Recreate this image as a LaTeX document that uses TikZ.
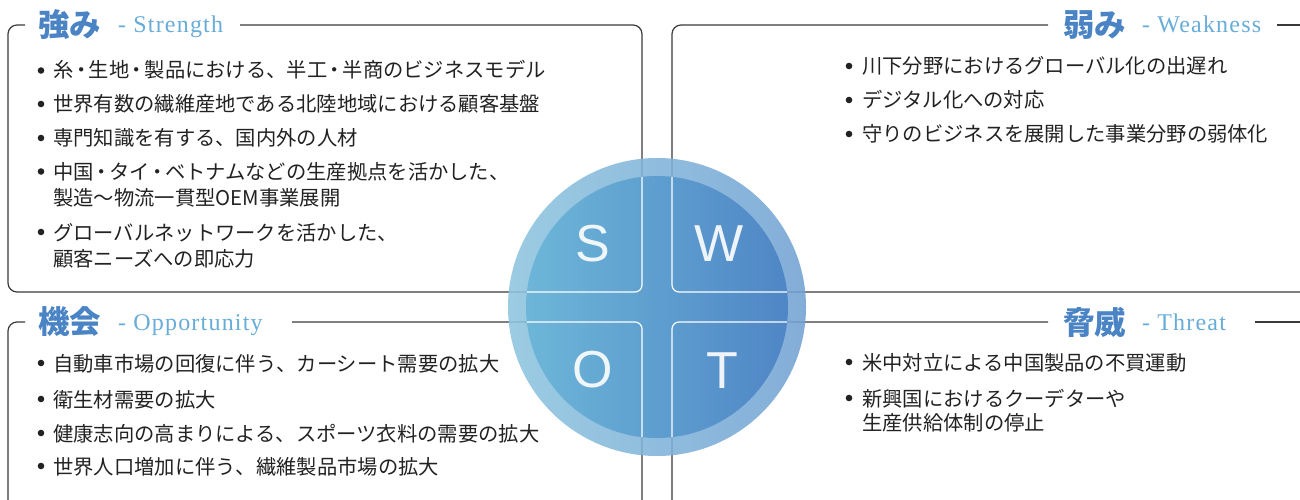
\documentclass[tikz,border=0pt]{standalone}
\usepackage{fontspec}
\setmainfont{Noto Sans CJK JP}
\newfontfamily\jpfont{Noto Sans CJK JP}
\newfontfamily\enserif{Liberation Serif}[LetterSpace=5]
\newfontfamily\letterfont{Liberation Sans}
\newcommand\nd{\kern-2.5pt・\kern-2.5pt}
\definecolor{headblue}{HTML}{4A84C4}
\definecolor{enblue}{HTML}{68ACD8}
\definecolor{linegray}{HTML}{3A3A3A}
\definecolor{txt}{HTML}{222222}
\definecolor{ringL}{HTML}{8EC5DF}
\definecolor{ringR}{HTML}{72A2D3}
\definecolor{diskL}{HTML}{6DB6D8}
\definecolor{diskR}{HTML}{4F86C6}
\tikzset{
  boxline/.style={draw=linegray, line width=1.2pt, rounded corners=9pt},
  wline/.style={draw=white, line width=1.2pt, rounded corners=7pt},
  headjp/.style={anchor=west, inner sep=0pt, text=headblue, font=\jpfont\bfseries\fontsize{31.5}{31.5}\selectfont},
  heade/.style={anchor=base west, inner sep=0pt, text=enblue, font=\enserif\fontsize{24}{24}\selectfont},
  body/.style={anchor=base west, inner sep=0pt, text=txt, font=\jpfont\fontsize{20.3}{20.3}\selectfont},
  bul/.style={fill=txt},
  letter/.style={inner sep=0pt, text=white, text opacity=0.9, font=\letterfont\fontsize{52}{52}\selectfont}
}
\begin{document}
\begin{tikzpicture}[x=1pt,y=-1pt]
\useasboundingbox (0,0) rectangle (1300,500);
% box outlines
\draw[boxline] (25,25) -- (8,25) -- (8,292) -- (642,292) -- (642,25) -- (240,25);
\draw[boxline] (1048,25) -- (672,25) -- (672,292) -- (1300,292);
\draw[boxline] (1277,25) -- (1300,25);
\draw[boxline] (25,322) -- (8,322) -- (8,500);
\draw[boxline] (292,322) -- (642,322) -- (642,500);
\draw[boxline] (1048,322) -- (672,322) -- (672,500);
\draw[boxline] (1255,322) -- (1300,322);
% headers
\node[headjp] (hS) at (38,25) {強み};
\node[heade] (eS) at (118,33) {- Strength};
\node[headjp] (hW) at (1063,25) {弱み};
\node[heade] (eW) at (1142,33) {- Weakness};
\node[headjp] (hO) at (38,322) {機会};
\node[heade] (eO) at (118,330) {- Opportunity};
\node[headjp] (hT) at (1063,322) {脅威};
\node[heade] (eT) at (1142,330) {- Threat};
% circle
\coordinate (c) at (657,307);
\shade[left color=ringL, right color=ringR, fill opacity=0.88] (c) circle (149pt);
\shade[left color=diskL, right color=diskR] (c) circle (131pt);
\begin{scope}
\clip (c) circle (131pt);
\draw[wline] (642,100) -- (642,292) -- (450,292);
\draw[wline] (672,100) -- (672,292) -- (850,292);
\draw[wline] (642,500) -- (642,322) -- (450,322);
\draw[wline] (672,500) -- (672,322) -- (850,322);
\end{scope}
\node[letter] (lS) at (593,244) {S};
\node[letter] (lW) at (719,244) {W};
\node[letter] (lO) at (593,370) {O};
\node[letter] (lT) at (722,371) {T};
% strengths
\fill[bul] (41,70.5) circle (3.3pt);
\node[body] (s1) at (53,78) {糸\nd 生地\nd 製品における、半工\nd 半商のビジネスモデル};
\fill[bul] (41,104) circle (3.3pt);
\node[body] (s2) at (53,112) {世界有数の繊維産地である北陸地域における顧客基盤};
\fill[bul] (41,138) circle (3.3pt);
\node[body] (s3) at (53,146) {専門知識を有する、国内外の人材};
\fill[bul] (41,171.5) circle (3.3pt);
\node[body] (s4) at (53,179) {中国\nd タイ\nd ベトナムなどの生産拠点を活かした、};
\node[body] (s4b) at (53,205) {製造〜物流一貫型OEM事業展開};
\fill[bul] (41,232) circle (3.3pt);
\node[body] (s5) at (53,240) {グローバルネットワークを活かした、};
\node[body] (s5b) at (53,266) {顧客ニーズへの即応力};
% weaknesses
\fill[bul] (849,66) circle (3.3pt);
\node[body] (w1) at (862,74) {川下分野におけるグローバル化の出遅れ};
\fill[bul] (849,100) circle (3.3pt);
\node[body] (w2) at (862,108) {デジタル化への対応};
\fill[bul] (849,134) circle (3.3pt);
\node[body] (w3) at (862,142) {守りのビジネスを展開した事業分野の弱体化};
% opportunities
\fill[bul] (41,363) circle (3.3pt);
\node[body] (o1) at (53,371) {自動車市場の回復に伴う、カーシート需要の拡大};
\fill[bul] (41,399) circle (3.3pt);
\node[body] (o2) at (53,407) {衛生材需要の拡大};
\fill[bul] (41,433) circle (3.3pt);
\node[body] (o3) at (53,441) {健康志向の高まりによる、スポーツ衣料の需要の拡大};
\fill[bul] (41,466) circle (3.3pt);
\node[body] (o4) at (53,474) {世界人口増加に伴う、繊維製品市場の拡大};
% threats
\fill[bul] (849,362) circle (3.3pt);
\node[body] (t1) at (862,370) {米中対立による中国製品の不買運動};
\fill[bul] (849,398) circle (3.3pt);
\node[body] (t2) at (862,406) {新興国におけるクーデターや};
\node[body] (t2b) at (862,430) {生産供給体制の停止};
\end{tikzpicture}
\end{document}
